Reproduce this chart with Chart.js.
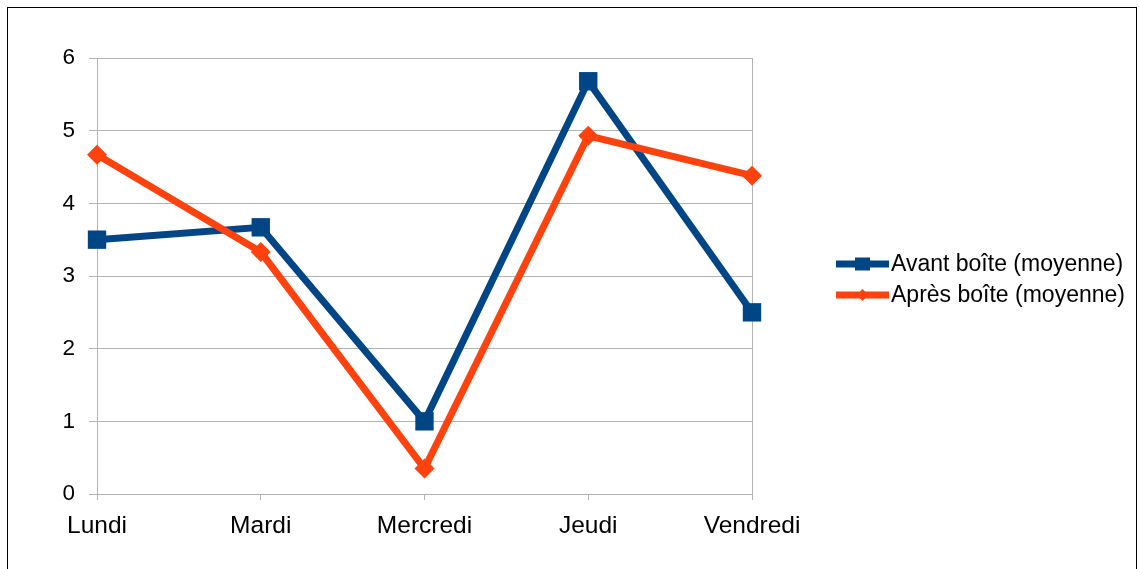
<!DOCTYPE html>
<html>
<head>
<meta charset="utf-8">
<script src="https://cdn.jsdelivr.net/npm/chart.js@4/dist/chart.umd.min.js"></script>
<style>
  html, body { margin: 0; padding: 0; background: #fff; overflow: hidden; }
  #frame { position: absolute; left: 7px; top: 7px; width: 1128px; height: 600px; border: 1px solid #000; }
  canvas { display: block; }
</style>
</head>
<body>
<div id="frame"><canvas id="chart" width="1128" height="600"></canvas></div>
<script>
const days = ['Lundi', 'Mardi', 'Mercredi', 'Jeudi', 'Vendredi'];
const avant = [3.5, 3.67, 1, 5.68, 2.5];
const apres = [4.67, 3.33, 0.35, 4.93, 4.38];
const yMin = 0, yMax = 6, yStep = 1;

const BLUE = '#004586', ORANGE = '#ff420e', GRID = '#b3b3b3';
const FONT = "'Liberation Sans', Arial, sans-serif";

// legend drawn as line + marker, like the office-style chart
const lineLegend = {
  id: 'lineLegend',
  afterDraw(chart) {
    const { ctx, chartArea } = chart;
    const x0 = chartArea.right + 84;
    const midY = (chartArea.top + chartArea.bottom) / 2;
    chart.data.datasets.forEach((ds, i) => {
      const y = midY - 12 + i * 31;
      ctx.save();
      ctx.strokeStyle = ds.borderColor;
      ctx.lineWidth = 7;
      ctx.beginPath();
      ctx.moveTo(x0, y);
      ctx.lineTo(x0 + 53, y);
      ctx.stroke();
      ctx.fillStyle = ds.borderColor;
      if (ds.pointStyle === 'rect') {
        ctx.fillRect(x0 + 19, y - 6.5, 15, 13);
      } else {
        ctx.beginPath();
        ctx.moveTo(x0 + 26.5, y - 6);
        ctx.lineTo(x0 + 32.5, y);
        ctx.lineTo(x0 + 26.5, y + 6);
        ctx.lineTo(x0 + 20.5, y);
        ctx.closePath();
        ctx.fill();
      }
      ctx.fillStyle = '#000';
      ctx.font = '23px ' + FONT;
      ctx.textBaseline = 'middle';
      ctx.textAlign = 'left';
      ctx.fillText(ds.label, x0 + 55, y + 1);
      ctx.restore();
    });
  }
};

new Chart(document.getElementById('chart').getContext('2d'), {
  type: 'line',
  data: {
    labels: days,
    datasets: [
      { label: 'Avant boîte (moyenne)', data: avant, order: 1,
        borderColor: BLUE, backgroundColor: BLUE, borderWidth: 7,
        pointStyle: 'rect', pointRadius: 13, pointHoverRadius: 13,
        pointBorderWidth: 0, pointBackgroundColor: BLUE, tension: 0 },
      { label: 'Après boîte (moyenne)', data: apres, order: 0,
        borderColor: ORANGE, backgroundColor: ORANGE, borderWidth: 7,
        pointStyle: 'rectRot', pointRadius: 10, pointHoverRadius: 10,
        pointBorderWidth: 0, pointBackgroundColor: ORANGE, tension: 0 }
    ]
  },
  options: {
    responsive: false, animation: false,
    layout: { padding: { left: 49, right: 384, top: 50, bottom: 74 } },
    plugins: { legend: { display: false }, tooltip: { enabled: false } },
    scales: {
      x: {
        offset: false,
        afterFit: s => { s.height = 40; },
        grid: {
          color: c => (c.index === 0 || c.index === days.length - 1) ? GRID : 'transparent',
          tickColor: GRID, tickLength: 6, lineWidth: 1
        },
        border: { color: GRID },
        ticks: { color: '#000', padding: 12, maxRotation: 0, font: { family: FONT, size: 24.5 } }
      },
      y: {
        min: yMin, max: yMax,
        afterFit: s => { s.width = 40; },
        grid: { color: GRID, tickColor: GRID, tickLength: 8, lineWidth: 1 },
        border: { color: GRID },
        ticks: { stepSize: yStep, color: '#000', padding: 14, font: { family: FONT, size: 22.5 } }
      }
    }
  },
  plugins: [lineLegend]
});
</script>
</body>
</html>
